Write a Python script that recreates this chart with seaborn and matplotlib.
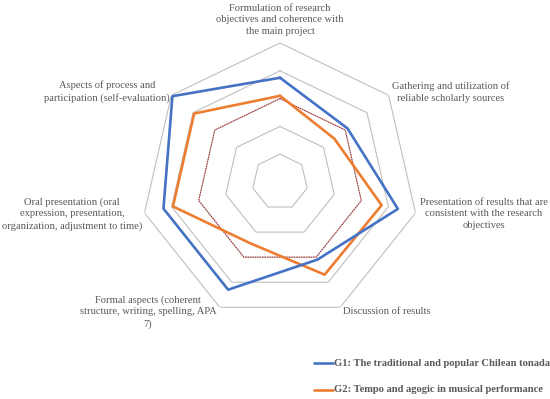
import numpy as np
import pandas as pd
import matplotlib
matplotlib.use("Agg")
import matplotlib.pyplot as plt
import seaborn as sns

# criteria (clockwise from top)
criteria = [
    "Formulation of research\nobjectives and coherence with\nthe main project",
    "Gathering and utilization of\nreliable scholarly sources",
    "Presentation of results that are\nconsistent with the research\nobjectives",
    "Discussion of results",
    "Formal aspects (coherent\nstructure, writing, spelling, APA\n7)",
    "Oral presentation (oral\nexpression, presentation,\norganization, adjustment to time)",
    "Aspects of process and\nparticipation (self-evaluation)",
]
g1 = [3.75, 3.1, 4.35, 3.1, 4.3, 4.3, 4.95]
g2 = [3.1, 2.5, 3.75, 3.7, 2.45, 3.95, 3.95]
reference = [3, 3, 3, 3, 3, 3, 3]
rings = [1, 2, 3, 4, 5]
series_names = ["G1: The traditional and popular Chilean tonada",
                "G2: Tempo and agogic in musical performance"]

sns.set_style("white")
plt.rcParams['font.family'] = ['Liberation Serif', 'DejaVu Serif']

W, H = 550, 399
fig = plt.figure(figsize=(5.5, 3.99), dpi=100)
cx, cy, R = 280, 182, 139
ax = fig.add_axes([(cx - R) / W, (H - cy - R) / H, 2 * R / W, 2 * R / H], projection="polar")
ax.set_theta_offset(np.pi / 2)
ax.set_theta_direction(-1)
ax.set_ylim(0, 5)
ax.grid(False)
ax.spines["polar"].set_visible(False)
ax.set_xticks([])
ax.set_yticks([])
ax.set_facecolor("none")

n = len(criteria)
angles = np.linspace(0, 2 * np.pi, n, endpoint=False)
ang_closed = np.append(angles, 2 * np.pi)

def closed(vals):
    return np.append(vals, vals[0])

for r in rings:
    ax.plot(ang_closed, [r] * (n + 1), color="#BFBFBF", lw=0.8, zorder=1)

df = pd.DataFrame({
    "angle": np.concatenate([ang_closed] * 3),
    "value": np.concatenate([closed(reference), closed(g2), closed(g1)]),
    "series": ["ref"] * (n + 1) + [series_names[1]] * (n + 1) + [series_names[0]] * (n + 1),
})
sns.lineplot(data=df[df.series == "ref"], x="angle", y="value", sort=False, ax=ax,
             color="#B22222", lw=0.7, linestyle=(0, (1.5, 1)), zorder=2, legend=False)
sns.lineplot(data=df[df.series != "ref"], x="angle", y="value", hue="series", sort=False, ax=ax,
             palette={series_names[0]: "#4472C4", series_names[1]: "#ED7D31"},
             lw=1.9, zorder=3, legend=False)
ax.set_xlabel("")
ax.set_ylabel("")
ax.set_ylim(0, 5)

tc = "#595959"
fs = 7.6
# (x, y-center, ha) in pixels
label_pos = [
    (280, 20, "center"),
    (451, 92, "center"),
    (484, 214, "center"),
    (343, 312, "left"),
    (148, 312, "center"),
    (72, 214, "center"),
    (107, 92, "center"),
]
for lab, (x, y, ha) in zip(criteria, label_pos):
    fig.text(x / W, 1 - y / H, lab, ha=ha, va="center", fontsize=fs, color=tc,
             linespacing=1.38, multialignment="center")

# legend
for name, col, y in zip(series_names, ["#4472C4", "#ED7D31"], [363, 390]):
    fig.add_artist(plt.Line2D([314 / W, 333 / W], [1 - y / H] * 2, color=col, lw=1.9))
    fig.text(334 / W, 1 - y / H, name, ha="left", va="center", fontsize=fs,
             color=tc, fontweight="bold")

fig.savefig("out.png", dpi=100)
